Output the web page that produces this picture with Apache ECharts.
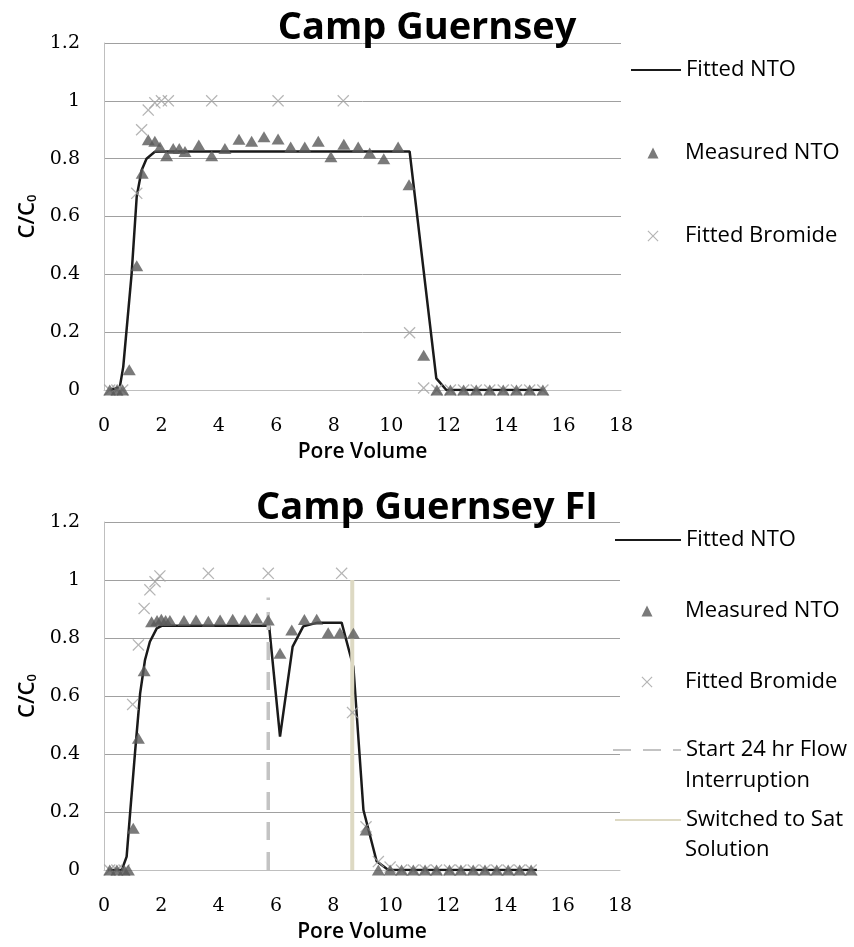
<!DOCTYPE html>
<html><head><meta charset="utf-8">
<script src="https://cdn.jsdelivr.net/npm/echarts@6/dist/echarts.min.js"></script>
<style>html,body{margin:0;padding:0;background:#fff}#c{width:854px;height:947px}</style>
</head><body><div id="c"></div>
<script>
// ---------- Data: Camp Guernsey (top) ----------
const titleTop = 'Camp Guernsey';
const titleBottom = 'Camp Guernsey FI';
const xTicks = [0, 2, 4, 6, 8, 10, 12, 14, 16, 18];
const yTicks = [0, 0.2, 0.4, 0.6, 0.8, 1, 1.2];

const fitA_x = [0.2, 0.55, 0.67, 0.96, 1.14, 1.31, 1.48, 1.77, 2.2, 10.64, 11.57, 11.92, 15.3];
const fitA_y = [0, 0.01, 0.08, 0.40, 0.67, 0.76, 0.80, 0.824, 0.825, 0.825, 0.04, 0, 0];

const measA_x = [0.2, 0.45, 0.65, 0.88, 1.14, 1.33, 1.54, 1.77, 1.95, 2.18, 2.41, 2.62, 2.82, 3.30, 3.75, 4.21, 4.70, 5.14, 5.57, 6.06, 6.50, 6.99, 7.46, 7.90, 8.35, 8.85, 9.25, 9.74, 10.24, 10.62, 11.13, 11.59, 12.06, 12.52, 12.96, 13.43, 13.90, 14.36, 14.82, 15.28];
const measA_y = [0, 0, 0, 0.07, 0.43, 0.75, 0.865, 0.86, 0.84, 0.81, 0.835, 0.835, 0.825, 0.847, 0.81, 0.835, 0.867, 0.86, 0.876, 0.868, 0.84, 0.84, 0.86, 0.807, 0.85, 0.84, 0.82, 0.80, 0.84, 0.71, 0.12, 0, 0, 0, 0, 0, 0, 0, 0, 0];

const bromA_x = [0.2, 0.45, 0.65, 1.14, 1.31, 1.54, 1.77, 2.0, 2.24, 3.75, 6.06, 8.33, 10.64, 11.13, 11.59, 12.06, 12.52, 12.96, 13.43, 13.90, 14.36, 14.82, 15.28];
const bromA_y = [0, 0, 0, 0.68, 0.90, 0.968, 0.993, 1.0, 1.0, 1.0, 1.0, 1.0, 0.198, 0.007, 0, 0, 0, 0, 0, 0, 0, 0, 0];

// ---------- Data: Camp Guernsey FI (bottom) ----------
const fitB_x = [0.14, 0.62, 0.79, 0.91, 1.08, 1.26, 1.43, 1.60, 1.84, 2.01, 5.76, 6.14, 6.58, 6.95, 7.45, 8.29, 8.70, 9.05, 9.51, 9.92, 15.1];
const fitB_y = [0, 0, 0.046, 0.195, 0.402, 0.609, 0.724, 0.787, 0.833, 0.842, 0.842, 0.46, 0.77, 0.84, 0.853, 0.853, 0.70, 0.207, 0.03, 0, 0];

const measB_x = [0.2, 0.45, 0.7, 0.85, 1.02, 1.20, 1.40, 1.66, 1.85, 2.0, 2.15, 2.3, 2.79, 3.21, 3.64, 4.05, 4.49, 4.92, 5.33, 5.73, 6.14, 6.55, 6.99, 7.42, 7.82, 8.23, 8.70, 9.14, 9.57, 9.98, 10.38, 10.79, 11.2, 11.6, 12.05, 12.45, 12.88, 13.29, 13.7, 14.1, 14.5, 14.9];
const measB_y = [0, 0, 0, 0, 0.144, 0.454, 0.687, 0.856, 0.86, 0.865, 0.86, 0.86, 0.86, 0.862, 0.858, 0.862, 0.865, 0.862, 0.868, 0.862, 0.747, 0.828, 0.864, 0.865, 0.818, 0.818, 0.816, 0.138, 0, 0, 0, 0, 0, 0, 0, 0, 0, 0, 0, 0, 0, 0];

const bromB_x = [0.2, 0.45, 0.7, 1.0, 1.20, 1.40, 1.60, 1.78, 1.95, 3.64, 5.73, 8.29, 8.67, 9.14, 9.57, 9.98, 10.38, 10.79, 11.2, 11.6, 12.05, 12.45, 12.88, 13.29, 13.7, 14.1, 14.5, 14.9];
const bromB_y = [0, 0, 0, 0.571, 0.776, 0.902, 0.966, 0.994, 1.014, 1.023, 1.023, 1.023, 0.543, 0.149, 0.029, 0.01, 0, 0, 0, 0, 0, 0, 0, 0, 0, 0, 0, 0];

const interrupt_x = [5.73, 5.73];
const interrupt_y = [0, 0.94];
const switch_x = [8.66, 8.66];
const switch_y = [0, 1.0];

const seriesNames = ['Fitted NTO', 'Measured NTO', 'Fitted Bromide', 'Start 24 hr Flow Interruption', 'Switched to Sat Solution'];

// ---------- Build ----------
function zip(xs, ys) { return xs.map((x, i) => [x, ys[i]]); }
const SANS = 'Open Sans';
const SERIF = 'DejaVu Serif';
const crossPath = 'path://M1.5,0L10,8.5L18.5,0L20,1.5L11.5,10L20,18.5L18.5,20L10,11.5L1.5,20L0,18.5L8.5,10L0,1.5Z';

function xAxisCfg(idx) {
  return {
    gridIndex: idx, type: 'value', min: xTicks[0], max: xTicks[xTicks.length - 1], interval: 2,
    axisLine: { show: true, lineStyle: { color: '#bfbfbf', width: 1 } },
    axisTick: { show: false }, splitLine: { show: false },
    axisLabel: { margin: 27, fontFamily: SERIF, fontSize: 19, color: '#000' },
    name: 'Pore Volume', nameLocation: 'middle', nameGap: 52,
    nameTextStyle: { fontFamily: SANS, fontSize: 21, fontWeight: 600, color: '#000' }
  };
}
function yAxisCfg(idx) {
  return {
    gridIndex: idx, type: 'value', min: yTicks[0], max: yTicks[yTicks.length - 1], interval: 0.2,
    axisLine: { show: true, lineStyle: { color: '#bfbfbf', width: 1 } },
    axisTick: { show: false },
    splitLine: { show: true, lineStyle: { color: '#a0a0a0', width: 1 } },
    axisLabel: { margin: 24, fontFamily: SERIF, fontSize: 19, color: '#000' },
    name: '{a|C/C}{b|0}', nameLocation: 'middle', nameGap: 62,
    nameTextStyle: {
      color: '#000',
      rich: {
        a: { fontFamily: SANS, fontSize: 22, fontWeight: 600, color: '#000' },
        b: { fontFamily: SANS, fontSize: 13, fontWeight: 600, color: '#000', verticalAlign: 'bottom' }
      }
    }
  };
}

function seriesFor(idx, fx, fy, mx, my, bx, by) {
  return [
    { type: 'line', name: seriesNames[0], xAxisIndex: idx, yAxisIndex: idx, data: zip(fx, fy),
      symbol: 'none', showSymbol: false, lineStyle: { color: '#1a1a1a', width: 2.5 }, itemStyle: { color: '#1a1a1a' }, z: 2, silent: true },
    { type: 'scatter', name: seriesNames[2], xAxisIndex: idx, yAxisIndex: idx, data: zip(bx, by),
      symbol: crossPath, symbolSize: 12, itemStyle: { color: '#a3a3a3' }, z: 4, silent: true },
    { type: 'scatter', name: seriesNames[1], xAxisIndex: idx, yAxisIndex: idx, data: zip(mx, my),
      symbol: 'triangle', symbolSize: [13, 11], itemStyle: { color: '#595959' }, z: 5, silent: true }
  ];
}

const series = [].concat(
  seriesFor(0, fitA_x, fitA_y, measA_x, measA_y, bromA_x, bromA_y),
  seriesFor(1, fitB_x, fitB_y, measB_x, measB_y, bromB_x, bromB_y),
  [
    { type: 'line', name: seriesNames[3], xAxisIndex: 1, yAxisIndex: 1, data: zip(interrupt_x, interrupt_y),
      symbol: 'none', showSymbol: false, lineStyle: { color: '#c3c3c3', width: 3.5, type: [18, 12] }, itemStyle: { color: '#c3c3c3' }, z: 3, silent: true },
    { type: 'line', name: seriesNames[4], xAxisIndex: 1, yAxisIndex: 1, data: zip(switch_x, switch_y),
      symbol: 'none', showSymbol: false, lineStyle: { color: '#ddd9c3', width: 4 }, itemStyle: { color: '#ddd9c3' }, z: 3, silent: true }
  ]
);

// line-type legend entry: icon is a line of width w, text starts 5px after it
function lgLine(name, left, centerY, w, shown) {
  return {
    data: [name], left: left, top: centerY - 11, orient: 'vertical', padding: 0, itemGap: 0,
    itemWidth: w, itemHeight: 10, selectedMode: false,
    itemStyle: { opacity: 0 },
    textStyle: { fontFamily: SANS, fontSize: 22, lineHeight: 22, color: '#000' },
    formatter: () => shown || name
  };
}
// symbol-type legend entry: icon centred at cx, text starts at textX
function lgSym(name, cx, centerY, textX) {
  const s = 11;
  const left = cx - s / 2;
  const pad = textX - (left + s + 5);
  return {
    data: [name], left: left, top: centerY - 11, orient: 'vertical', padding: 0, itemGap: 0,
    itemWidth: s, itemHeight: s, selectedMode: false,
    textStyle: { fontFamily: SANS, fontSize: 22, lineHeight: 22, color: '#000', padding: [0, 0, 0, pad] }
  };
}

const option = {
  animation: false,
  backgroundColor: '#fff',
  title: [
    { text: titleTop, left: 'center', top: 9, padding: 0,
      textStyle: { fontFamily: SANS, fontSize: 38, fontWeight: 'bold', color: '#000', lineHeight: 38 } },
    { text: titleBottom, left: 'center', top: 489, padding: 0,
      textStyle: { fontFamily: SANS, fontSize: 38, fontWeight: 'bold', color: '#000', lineHeight: 38 } }
  ],
  grid: [
    { left: 104, top: 43, width: 517, height: 347 },
    { left: 104, top: 522, width: 516, height: 348 }
  ],
  xAxis: [xAxisCfg(0), xAxisCfg(1)],
  yAxis: [yAxisCfg(0), yAxisCfg(1)],
  legend: [
    lgLine(seriesNames[0], 630, 70, 50),
    lgSym(seriesNames[1], 653, 153, 685),
    lgSym(seriesNames[2], 653, 236, 685),
    lgLine(seriesNames[0], 614, 540, 66),
    lgSym(seriesNames[1], 647, 611, 685),
    lgSym(seriesNames[2], 647, 682, 685),
    lgLine(seriesNames[3], 612, 750, 68, 'Start 24 hr Flow'),
    lgLine(seriesNames[4], 614, 820, 66, 'Switched to Sat')
  ],
  graphic: [
    { type: 'text', left: 685, top: 781 - 11, silent: true,
      style: { text: 'Interruption', font: '22px "Open Sans"', lineHeight: 22, fill: '#000' } },
    { type: 'text', left: 685, top: 850 - 11, silent: true,
      style: { text: 'Solution', font: '22px "Open Sans"', lineHeight: 22, fill: '#000' } }
  ],
  series: series
};

const chart = echarts.init(document.getElementById('c'), null, { renderer: 'canvas' });
chart.setOption(option);
</script>
</body></html>
